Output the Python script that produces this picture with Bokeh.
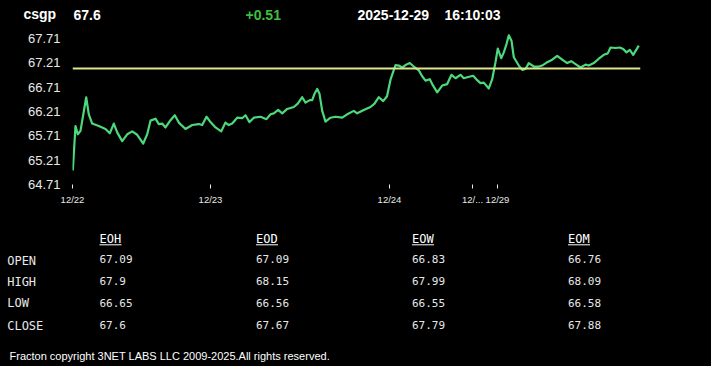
from bokeh.plotting import figure
from bokeh.models import Range1d, FixedTicker, Span, ColumnDataSource, NumeralTickFormatter
from bokeh.core.properties import value
from bokeh.embed import file_html
from bokeh.resources import INLINE

# ---------------- data ----------------
symbol = "csgp"
last_price = "67.6"
change = "+0.51"
quote_date = "2025-12-29"
quote_time = "16:10:03"
open_level = 67.09

# time index (trading-time position) and price
t = [0.3, 3, 5.3, 8, 13.7, 16.3, 19.7, 26.3, 33, 37.3, 41.3, 44.7, 49.7, 54.7, 59.7, 64.7,
     70.7, 74.7, 78, 83, 86.3, 89.7, 93, 98, 102.3, 106.3, 113, 119.7, 126.3, 129.7, 134,
     138, 143, 148.7, 153, 156.3, 159.7, 164.7, 169.7, 173, 177, 181.3, 188, 194, 198,
     201.3, 205.7, 209.7, 214.7, 221.3, 225.3, 229.7, 233, 237.3, 239.7, 242, 244.7, 247,
     249.7, 253, 258, 263, 269.7, 274.7, 281.3, 284.7, 291.3, 298, 302, 306.3, 310.7,
     314.5, 318, 323, 326.3, 329.7, 333, 337.3, 341.3, 346.3, 349.7, 353, 357.3, 359.7,
     364.7, 369.7, 374.7, 379, 383, 388, 391.3, 394.7, 400.7, 404.7, 408, 411.3, 416.3,
     419.7, 423, 425.3, 428.7, 431.3, 434, 436.3, 439, 441.3, 446.3, 449.7, 453, 456.3,
     461.3, 466.3, 469.7, 474.7, 479.7, 484.7, 489.7, 494.7, 498.7, 503, 508, 513, 516.3,
     521.3, 526.3, 531.3, 535.3, 538, 543, 547.3, 550.7, 554, 557.3, 560.7, 566.3]
price = [65.00, 65.91, 65.74, 65.81, 66.50, 66.15, 65.96, 65.91, 65.85, 65.76, 65.96, 65.78,
         65.60, 65.74, 65.80, 65.73, 65.55, 65.74, 66.02, 66.06, 65.95, 65.96, 65.88, 66.03,
         66.13, 65.98, 65.85, 65.93, 65.95, 65.93, 66.10, 65.99, 65.88, 65.80, 65.98, 65.93,
         65.96, 66.08, 66.07, 66.13, 65.99, 66.08, 66.10, 66.05, 66.15, 66.17, 66.24, 66.17,
         66.26, 66.30, 66.37, 66.50, 66.39, 66.44, 66.44, 66.57, 66.67, 66.57, 66.22, 66.00,
         66.08, 66.10, 66.08, 66.15, 66.22, 66.17, 66.24, 66.30, 66.37, 66.50, 66.42, 66.52,
         66.86, 67.16, 67.15, 67.11, 67.16, 67.20, 67.13, 67.05, 66.93, 66.84, 66.87, 66.77,
         66.60, 66.74, 66.77, 66.96, 66.89, 66.96, 66.89, 66.91, 66.94, 66.85, 66.79, 66.80,
         66.68, 66.87, 67.22, 67.50, 67.30, 67.42, 67.59, 67.77, 67.66, 67.32, 67.15, 67.06,
         67.08, 67.20, 67.13, 67.13, 67.15, 67.22, 67.27, 67.35, 67.27, 67.20, 67.24, 67.18,
         67.11, 67.17, 67.15, 67.20, 67.29, 67.37, 67.40, 67.52, 67.51, 67.52, 67.49, 67.42,
         67.47, 67.37, 67.56, 67.60]

x_tick_pos = [0, 138, 317, 400, 425]
x_tick_labels = ["12/22", "12/23", "12/24", "12/...", "12/29"]
y_ticks = [64.71, 65.21, 65.71, 66.21, 66.71, 67.21, 67.71]

table_cols = ["EOH", "EOD", "EOW", "EOM"]
row_labels = ["OPEN", "HIGH", "LOW", "CLOSE"]
eoh = ["67.09", "67.9", "66.65", "67.6"]
eod = ["67.09", "68.15", "66.56", "67.67"]
eow = ["66.83", "67.99", "66.55", "67.79"]
eom = ["66.76", "68.09", "66.58", "67.88"]
footer = "Fracton copyright 3NET LABS LLC 2009-2025.All rights reserved."

# ---------------- styling / layout ----------------
W, H = 711, 366
BG = "#000000"
WHITE = "#ffffff"
LIGHT = "#e8e8e8"
GREEN_TXT = "#3fbf3f"
LINE_GREEN = "#4cd97b"
OPEN_YELLOW = "#dfe58c"
SANS = value("Liberation Sans")
MONO = value("DejaVu Sans Mono")

FL, FR, FT, FB = 72, 640, 28, 184   # chart frame in page pixels

p = figure(width=W, height=H, x_range=Range1d(0, FR - FL), y_range=Range1d(64.71, 67.91),
           output_backend="svg", toolbar_location=None,
           min_border_left=FL, min_border_right=W - FR, min_border_top=FT,
           min_border_bottom=H - FB)
p.background_fill_color = BG
p.border_fill_color = BG
p.outline_line_color = None
p.grid.visible = False

# page-pixel coordinate system for the header / table texts
p.extra_x_ranges = {"px": Range1d(FL, FR)}
p.extra_y_ranges = {"py": Range1d(FB, FT)}
PX = dict(x_range_name="px", y_range_name="py", level="overlay")

# price line and open level
p.line(t, price, line_color=LINE_GREEN, line_width=2.2, line_join="round")
p.add_layout(Span(location=open_level, dimension="width", line_color=OPEN_YELLOW,
                  line_width=2))

xa = p.xaxis[0]
xa.ticker = FixedTicker(ticks=x_tick_pos)
xa.major_label_overrides = {k: v for k, v in zip(x_tick_pos, x_tick_labels)}
xa.axis_line_color = None
xa.major_tick_line_color = LIGHT
xa.major_tick_in = 0
xa.major_tick_out = 4
xa.minor_tick_line_color = None
xa.minor_tick_out = 0
xa.major_label_text_color = LIGHT
xa.major_label_text_font = "Liberation Sans"
xa.major_label_text_font_size = "9.5px"
xa.major_label_standoff = 5

ya = p.yaxis[0]
ya.ticker = FixedTicker(ticks=y_ticks)
ya.formatter = NumeralTickFormatter(format="0.00")
ya.axis_line_color = None
ya.major_tick_line_color = None
ya.minor_tick_line_color = None
ya.major_tick_in = 0
ya.major_tick_out = 0
ya.minor_tick_in = 0
ya.minor_tick_out = 0
ya.major_label_text_color = LIGHT
ya.major_label_text_font = "Liberation Sans"
ya.major_label_text_font_size = "13px"
ya.major_label_standoff = 12

# header
hx = [23, 73, 245, 357, 444]
hy = [13.5, 14, 14, 14, 14]
htxt = [symbol, last_price, change, quote_date, quote_time]
hcol = [WHITE, WHITE, GREEN_TXT, WHITE, WHITE]
p.text(x=hx, y=hy, text=htxt, text_color=hcol, text_font=SANS,
       text_font_size="14px", text_font_style="bold",
       text_baseline="alphabetic", text_align="left", **PX)

# table
col_x = [99, 255.5, 411.5, 567.5]
head_y = 238.3
label_y = [260, 281, 302.7, 325]
value_y = [258.7, 280, 302.3, 324.3]

p.text(x=col_x, y=[head_y] * 4, text=table_cols, text_color=WHITE, text_font=MONO,
       text_font_size="12px", text_baseline="middle", text_align="left", **PX)
p.segment(x0=col_x, y0=[head_y + 6] * 4, x1=[c + 22 for c in col_x], y1=[head_y + 6] * 4,
          line_color=WHITE, line_width=1, **PX)
p.text(x=[6.7] * 4, y=label_y, text=row_labels, text_color=LIGHT, text_font=MONO,
       text_font_size="12px", text_baseline="middle", text_align="left", **PX)

vx, vy, vt = [], [], []
for cx, colvals in zip(col_x, [eoh, eod, eow, eom]):
    for ry, v in zip(value_y, colvals):
        vx.append(cx)
        vy.append(ry)
        vt.append(v)
p.text(x="x", y="y", text="t", source=ColumnDataSource(dict(x=vx, y=vy, t=vt)),
       text_color=LIGHT, text_font=MONO, text_font_size="11px",
       text_baseline="middle", text_align="left", **PX)

p.text(x=[9], y=[355], text=[footer], text_color=WHITE, text_font=SANS,
       text_font_size="11px", text_baseline="middle", text_align="left", **PX)

html = file_html(p, INLINE)
html = html.replace("<body>", '<body style="background-color:#000000;">')
open("out.html", "w").write(html)
